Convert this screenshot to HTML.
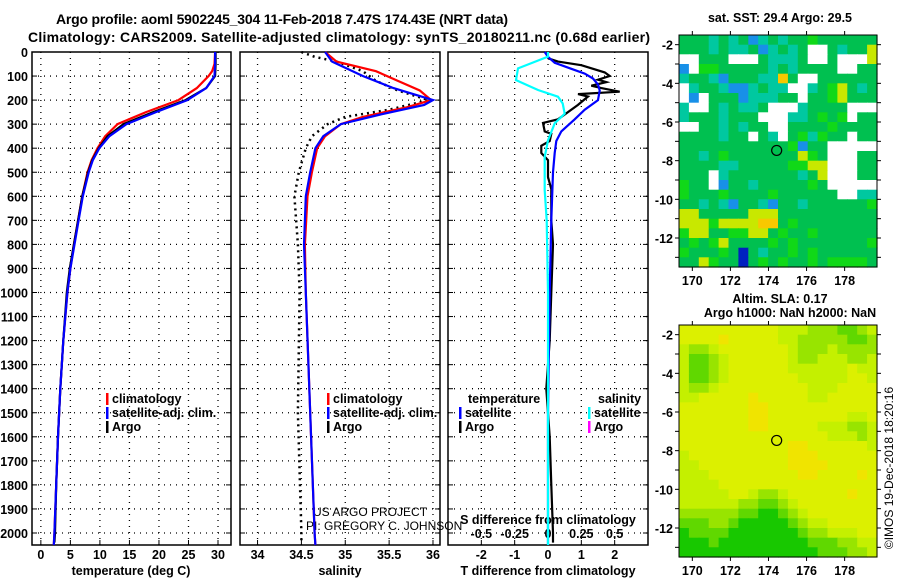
<!DOCTYPE html>
<html><head><meta charset="utf-8"><style>
body{margin:0;background:#fff}
svg{display:block;font-family:"Liberation Sans",sans-serif}
.b{font-weight:bold;font-size:12.5px}
.n{font-size:12px}
</style></head><body>
<svg id="s" width="900" height="580" viewBox="0 0 900 580" xmlns="http://www.w3.org/2000/svg">
<text x="56" y="24" font-size="14" font-weight="bold" textLength="452">Argo profile: aoml 5902245_304 11-Feb-2018 7.47S 174.43E (NRT data)</text>
<text x="28" y="42" font-size="14" font-weight="bold" textLength="622">Climatology: CARS2009. Satellite-adjusted climatology: synTS_20180211.nc (0.68d earlier)</text>
<g id="g"></g>
</svg>
<script>
// ---- data ----
const depthTicks=[0,100,200,300,400,500,600,700,800,900,1000,1100,1200,1300,1400,1500,1600,1700,1800,1900,2000];
const tTicks=[0,5,10,15,20,25,30];
const sTicks=[34,34.5,35,35.5,36];
const sTickLabels=["34","34.5","35","35.5","36"];
const dTicks=[-2,-1,0,1,2];
const dsTicks=[-0.5,-0.25,0,0.25,0.5];
const dsTickLabels=["-0.5","-0.25","0","0.25","0.5"];
const argoT_depth=[0,50,100,150,200,250,300,350,400,450,500,600,700,800,900,1000,1200,1400,1600,1800,2000,2040];
const argoT=[29.6,29.6,29.5,28,24.5,19,14,11.3,9.8,8.7,8,7,6.3,5.6,4.9,4.4,3.8,3.3,2.9,2.6,2.4,2.3];
const climT_depth=[0,50,80,100,150,200,250,300,350,400,450,500,600,700,800,900,1000,1200,1400,1600,1800,2000,2050];
const climT=[29.5,29.4,29,28.4,26.4,23.3,17.8,13,10.9,9.6,8.6,7.9,7,6.3,5.6,5,4.5,3.8,3.3,2.9,2.6,2.3,2.2];
const satT_depth=[0,50,100,150,200,250,300,350,400,450,500,600,700,800,900,1000,1200,1400,1600,1800,2000,2050];
const satT=[29.5,29.5,29.4,28,24.8,19.5,14.5,11.6,9.9,8.8,8.1,7.1,6.4,5.7,5,4.5,3.8,3.3,2.9,2.6,2.3,2.2];
const argoS_depth=[0,20,40,80,120,160,200,240,270,300,350,400,500,600,800,1000,1500,2000,2040];
const argoS=[34.5,34.65,34.9,35.2,35.35,35.6,35.95,35.5,35.0,34.8,34.62,34.55,34.47,34.42,34.46,34.48,34.46,34.5,34.5];
const climS_depth=[0,40,80,120,160,200,230,270,300,350,400,500,600,800,1000,1500,2000,2050];
const climS=[34.77,34.9,35.35,35.6,35.85,35.98,35.7,35.2,34.95,34.77,34.68,34.62,34.57,34.54,34.55,34.6,34.65,34.66];
const satS_depth=[0,40,100,150,200,220,260,300,350,400,500,600,800,1000,1500,2000,2050];
const satS=[34.77,34.85,35.2,35.55,36.0,35.9,35.4,34.95,34.75,34.66,34.6,34.55,34.53,34.55,34.6,34.65,34.66];
const dTargo_depth=[26,40,55,85,100,115,125,140,150,165,175,185,220,280,295,330,340,370,390,420,450,520,570,620,700,800,1000,1200,1300,1400,1600,1800,2000,2040];
const dTargo=[0,0.3,1.0,1.7,1.85,1.5,1.75,1.3,1.6,2.15,0.9,1.2,0.9,0.3,-0.15,-0.1,0.1,0.05,-0.2,-0.2,0,0,0.1,0.1,0.1,0.15,0.1,0.05,0,-0.05,0.05,0.1,0.15,0.15];
const dTsat_depth=[0,20,45,70,90,110,135,160,200,240,280,330,370,420,500,700,1000,1500,2000,2050];
const dTsat=[-0.1,0,0.2,0.7,1.1,1.35,1.5,1.55,1.5,1.1,0.8,0.4,0.25,0.2,0.15,0.1,0.05,0,0,0];
const dSsat_depth=[0,19,68,117,158,186,214,256,297,367,436,575,700,1000,1500,2000,2050];
const dSsat=[0,0,-0.225,-0.24,-0.075,0.075,0.11,0.125,0.05,0,-0.025,-0.025,-0.01,0,0,0,0];
const sstGrid=["gggcgcgbcgcggGgggggg","gggcgccgbcgcgwwgcggy","wwgggwwwgcccgwwgwwwy","bwGGgggggcgcggggwwgg","cggcbgggccogwwgggggg","wcggcbbcgccwwcgGygcg","wbwgggbcccggwggGyggg","cwwgcgccgwwwcggggwww","cgggcgggwwwccgGgGwgg","wwggcgcggwwggggGgggg","ggggcggwgcwgGcGggwgg","gggggggggggGbggwwwww","ggcgGgggggggyGgwwwgg","ggggccgggggGGyywwwgg","gggwcgggggggcgywwwgg","GggwbggcgggggGgwwwww","GgggGggggGggggggwwcc","ggcgcbggcbggcggggggG","yygggggyyygggggggggg","yyyGyyyyoogGgggggggg","GyyggGGyygGggGgggggg","gGgGyggggGgGgggggggG","GgggGgdgcggGgGgggggg","ggyGggdgGgGggGgGGGGg"];
const slaGrid=["yyyyyyyyyylllmmmnnml","yyyyYyyyyyllmmmmmnnm","lmmlyyyyyyylmmmlmmmm","lnnmlyyyyyylmmlllmml","lnnmlyyyyyyllllllyll","lnnmlyyyyyyylllllyyl","lmmlyyyyyyyyylllyyyy","llyyyyyYyyyyyllyyyyy","yyyyyyyYYyyyyyyyyyyy","yyyyyyyYYyyyyyyyylly","yyyyyyyYYyyyyylllmml","yyyyyyyyyyyyyyylllml","yyyyyyyyyyyYYyyyyyyl","lyyyyyyyyyyYYYyyyyyy","llyyyyyyyyyYYYYyyyyy","lllyyyyyyyyyYYyyyyYy","llllyyyyyyyyyyyyyyyy","lllllyylmmlyyyyyyYyy","llllllmmnnmlyyyyyyyy","mmmmmmnnNNnmlyyyyyyy","nnnmmnNNNNNnmllyyyyy","NnnnnNNNNNNNnmmlllyy","NNNnNNNNNNNNNnnnmmll","NNNNNNNNNNNNNNnnnmml"];
const lonTicks=[170,172,174,176,178];
const latTicks=[-2,-4,-6,-8,-10,-12];
const argoLon=174.43, argoLat=-7.47;

// ---- drawing ----
const NS="http://www.w3.org/2000/svg";
const G=document.getElementById('g');
function mk(tag,attrs,parent){const e=document.createElementNS(NS,tag);for(const k in attrs)e.setAttribute(k,attrs[k]);(parent||G).appendChild(e);return e;}
function txt(x,y,s,anchor,cls,parent){const e=mk('text',{x:x,y:y,'text-anchor':anchor||'middle','class':cls||'b'},parent);e.textContent=s;return e;}
const Y0=52,Y1=545;
const yD=d=>Y0+d*0.2405;
const panels=[{x0:32,x1:231,v0:-1.5,v1:32.2},{x0:240,x1:440,v0:33.8,v1:36.08},{x0:448,x1:648,v0:-3,v1:3}];
function sx(p,v){const P=panels[p];return P.x0+(v-P.v0)/(P.v1-P.v0)*(P.x1-P.x0);}
function sxS(v){return sx(2,v*4);}
function line(p,dep,val,color,name,dash,w,fx){
  let d='';for(let i=0;i<dep.length;i++){d+=(i?'L':'M')+(fx?fx(val[i]):sx(p,val[i])).toFixed(1)+' '+yD(dep[i]).toFixed(1);}
  const e=mk('path',{d:d,fill:'none',stroke:color,'stroke-width':w||2.2});
  if(dash){e.setAttribute('stroke-dasharray',dash);e.setAttribute('stroke-width',2.5);}
  
  
}
panels.forEach((P,pi)=>{
  const g=mk('g',{});
  
  
  depthTicks.forEach(d=>{if(d>0)mk('line',{x1:P.x0,x2:P.x1,y1:yD(d),y2:yD(d),stroke:'#000','stroke-dasharray':'1 5','stroke-width':1.3},g);
    mk('line',{x1:P.x0,x2:P.x0+5,y1:yD(d),y2:yD(d),stroke:'#000'},g);mk('line',{x1:P.x1-5,x2:P.x1,y1:yD(d),y2:yD(d),stroke:'#000'},g);});
  const ticks=[tTicks,sTicks,dTicks][pi];
  ticks.forEach((v,i)=>{const x=sx(pi,v);mk('line',{x1:x,x2:x,y1:Y0,y2:Y1,stroke:'#000','stroke-dasharray':'1 5','stroke-width':1.3},g);
    mk('line',{x1:x,x2:x,y1:Y1-5,y2:Y1,stroke:'#000'},g);
    const lab=pi==1?sTickLabels[i]:String(v);
    const t=txt(x,559,lab,'middle','b',g);
    
    });
  mk('rect',{x:P.x0,y:Y0,width:P.x1-P.x0,height:Y1-Y0,fill:'none',stroke:'#000','stroke-width':1.5},g);
});
depthTicks.forEach(d=>{const t=txt(28,yD(d)+5,String(d),'end');
  
  });
dsTicks.forEach((v,i)=>{const t=txt(sxS(v),538,dsTickLabels[i]);
  
  });
let t;
t=txt(131,575,'temperature (deg C)');
t=txt(340,575,'salinity');
t=txt(548,575,'T difference from climatology');
t=txt(548,524,'S difference from climatology');
t=txt(313,516,'US ARGO PROJECT','start','n');
t=txt(306,530,'PI: GREGORY C. JOHNSON','start','n');
line(0,climT_depth,climT,'#f00','temp-climatology-line');
line(0,argoT_depth,argoT,'#000','temp-argo-line');
line(0,satT_depth,satT,'#00f','temp-satellite-line');
line(1,argoS_depth,argoS,'#000','sal-argo-line','2 4');
line(1,climS_depth,climS,'#f00','sal-climatology-line');
line(1,satS_depth,satS,'#00f','sal-satellite-line');
line(2,dTargo_depth,dTargo,'#000','tdiff-argo-line');
line(2,dTsat_depth,dTsat,'#00f','tdiff-satellite-line');
line(2,dSsat_depth,dSsat,'#0ff','sdiff-satellite-line',null,2.2,sxS);
function leg(x,y,color,label,name){const g=mk('g',{});
  if(color)mk('rect',{x:x,y:y-10,width:2.5,height:12,fill:color},g);txt(x+6,y,label,'start','b',g);}
leg(106,403,'#f00','climatology','legend-climatology');leg(106,417,'#00f','satellite-adj. clim.','legend-satellite');leg(106,431,'#000','Argo','legend-argo');
leg(327,403,'#f00','climatology','legend-sal-climatology');leg(327,417,'#00f','satellite-adj. clim.','legend-sal-satellite');leg(327,431,'#000','Argo','legend-sal-argo');
leg(462,403,null,'temperature','legend-temp-header');leg(459,417,'#00f','satellite','legend-tdiff-satellite');leg(459,431,'#000','Argo','legend-tdiff-argo');
leg(592,403,null,'salinity','legend-sal-header');leg(588,417,'#0ff','satellite','legend-sdiff-satellite');leg(588,431,'#f0f','Argo','legend-sdiff-argo');
const colsSST={g:'#00c050',G:'#10d818',c:'#00c8a0',b:'#1890e8',d:'#0020c0',w:'#ffffff',y:'#c8e800',o:'#f8c800'};
const colsSLA={Y:'#f0e400',y:'#dcf000',l:'#c4f000',m:'#98e400',n:'#60d800',N:'#18c800'};
function map(y0,grid,cols,name,t1,t2){
  const x0=679,x1=877,y1=y0+232;
  const g=mk('g',{});
  const nr=grid.length,nc=grid[0].length,cw=(x1-x0)/nc,ch=(y1-y0)/nr;
  grid.forEach((row,r)=>{for(let c=0;c<nc;c++){
    const cell=mk('rect',{x:(x0+c*cw).toFixed(1),y:(y0+r*ch).toFixed(1),width:(cw+0.6).toFixed(1),height:(ch+0.6).toFixed(1),fill:cols[row[c]]},g);
    
    }});
  const lx=v=>x0+(v-169.3)/(179.7-169.3)*(x1-x0);
  const ly=v=>y0+(-1.5-v)/12*(y1-y0);
  mk('rect',{x:x0,y:y0,width:x1-x0,height:y1-y0,fill:'none',stroke:'#000'},g);
  lonTicks.forEach(v=>{const x=lx(v);mk('line',{x1:x,x2:x,y1:y0-4,y2:y0,stroke:'#000'},g);mk('line',{x1:x,x2:x,y1:y1,y2:y1+4,stroke:'#000'},g);txt(x,y1+18,String(v),'middle','b',g);});
  latTicks.forEach(v=>{const y=ly(v);mk('line',{x1:x0-4,x2:x0,y1:y,y2:y,stroke:'#000'},g);mk('line',{x1:x1,x2:x1+4,y1:y,y2:y,stroke:'#000'},g);txt(x0-6,y+5,String(v),'end','b',g);});
  [-3,-5,-7,-9,-11,-13].forEach(v=>{const y=ly(v);mk('line',{x1:x0-4,x2:x0,y1:y,y2:y,stroke:'#000'},g);mk('line',{x1:x1,x2:x1+4,y1:y,y2:y,stroke:'#000'},g);});
  const c=mk('circle',{cx:lx(argoLon),cy:ly(argoLat),r:5,fill:'none',stroke:'#000','stroke-width':1.2},g);
  
  if(t1)txt(780,y0-(t2?22:13),t1,'middle','b',g);
  if(t2)txt(790,y0-8,t2,'middle','b',g);
}
map(35,sstGrid,colsSST,'sst-map','sat. SST: 29.4 Argo: 29.5');
map(325,slaGrid,colsSLA,'sla-map','Altim. SLA: 0.17','Argo h1000: NaN h2000: NaN');
t=txt(0,0,'©IMOS 19-Dec-2018 18:20:16','middle','n');t.setAttribute('transform','translate(893,468) rotate(-90)');

</script>
</body></html>
